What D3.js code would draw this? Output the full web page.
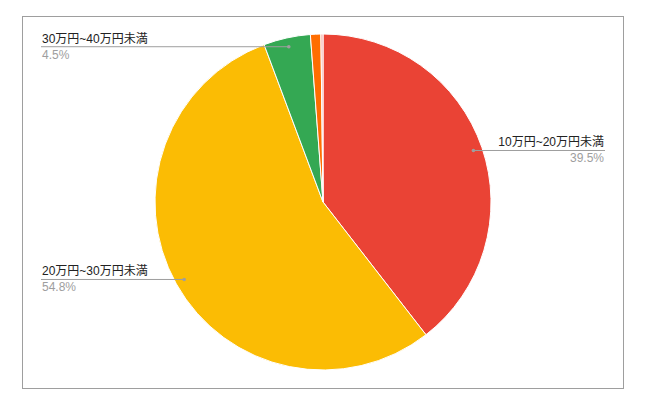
<!DOCTYPE html>
<html><head><meta charset="utf-8">
<script src="https://cdn.jsdelivr.net/npm/d3@7"></script>
<style>
html,body{margin:0;padding:0;background:#fff;}
text{font-family:"Liberation Sans",Arial,"Noto Sans CJK JP",sans-serif;}
</style></head>
<body>
<svg id="chart" width="646" height="409"></svg>
<script>
const categories = ["10万円~20万円未満","20万円~30万円未満","30万円~40万円未満","40万円~50万円未満","50万円以上"];
const values = [39.5, 54.8, 4.5, 1.0, 0.2];
const labels = ["39.5%","54.8%","4.5%","",""];
const colors = ["#ea4335","#fbbc04","#34a853","#ff6d01","#f6a8a2"];
const showLabel = [true, true, true, false, false];

const W = 646, H = 409;
const svg = d3.select("#chart");
svg.append("rect").attr("x",22.5).attr("y",16.5).attr("width",601).attr("height",372)
  .attr("fill","#fff").attr("stroke","#9e9e9e").attr("stroke-width",1);

const cx = 323, cy = 202, R = 168;
const data = categories.map((c,i)=>({cat:c, v:values[i], lab:labels[i], col:colors[i], show:showLabel[i]}));
const pie = d3.pie().value(d=>d.v).sort(null);
const arcs = pie(data);
const arc = d3.arc().innerRadius(0).outerRadius(R);
const dotArc = d3.arc().innerRadius(159).outerRadius(159);

const g = svg.append("g").attr("transform",`translate(${cx},${cy})`);
g.selectAll("path").data(arcs).join("path")
  .attr("d",arc).attr("fill",d=>d.data.col)
  .attr("stroke","#fff").attr("stroke-width",1);

const leftX = 41, rightX = 605;
arcs.filter(d=>d.data.show).forEach(d=>{
  const [px,py] = dotArc.centroid(d);
  const x = cx+px, y = cy+py;
  const right = x > cx;
  const lx = right ? rightX : leftX;
  svg.append("line").attr("x1",lx).attr("x2",x).attr("y1",y).attr("y2",y)
    .attr("stroke","#9e9e9e").attr("stroke-width",1);
  svg.append("circle").attr("cx",x).attr("cy",y).attr("r",1.8).attr("fill","#9e9e9e");
  svg.append("text").attr("x", right? lx-1 : lx+1).attr("y",y-4)
    .attr("text-anchor", right?"end":"start").attr("font-size",12).attr("fill","#222")
    .text(d.data.cat);
  svg.append("text").attr("x", right? lx-1 : lx+1).attr("y",y+12)
    .attr("text-anchor", right?"end":"start").attr("font-size",12).attr("fill","#9e9e9e")
    .text(d.data.lab);
});
</script>
</body></html>
